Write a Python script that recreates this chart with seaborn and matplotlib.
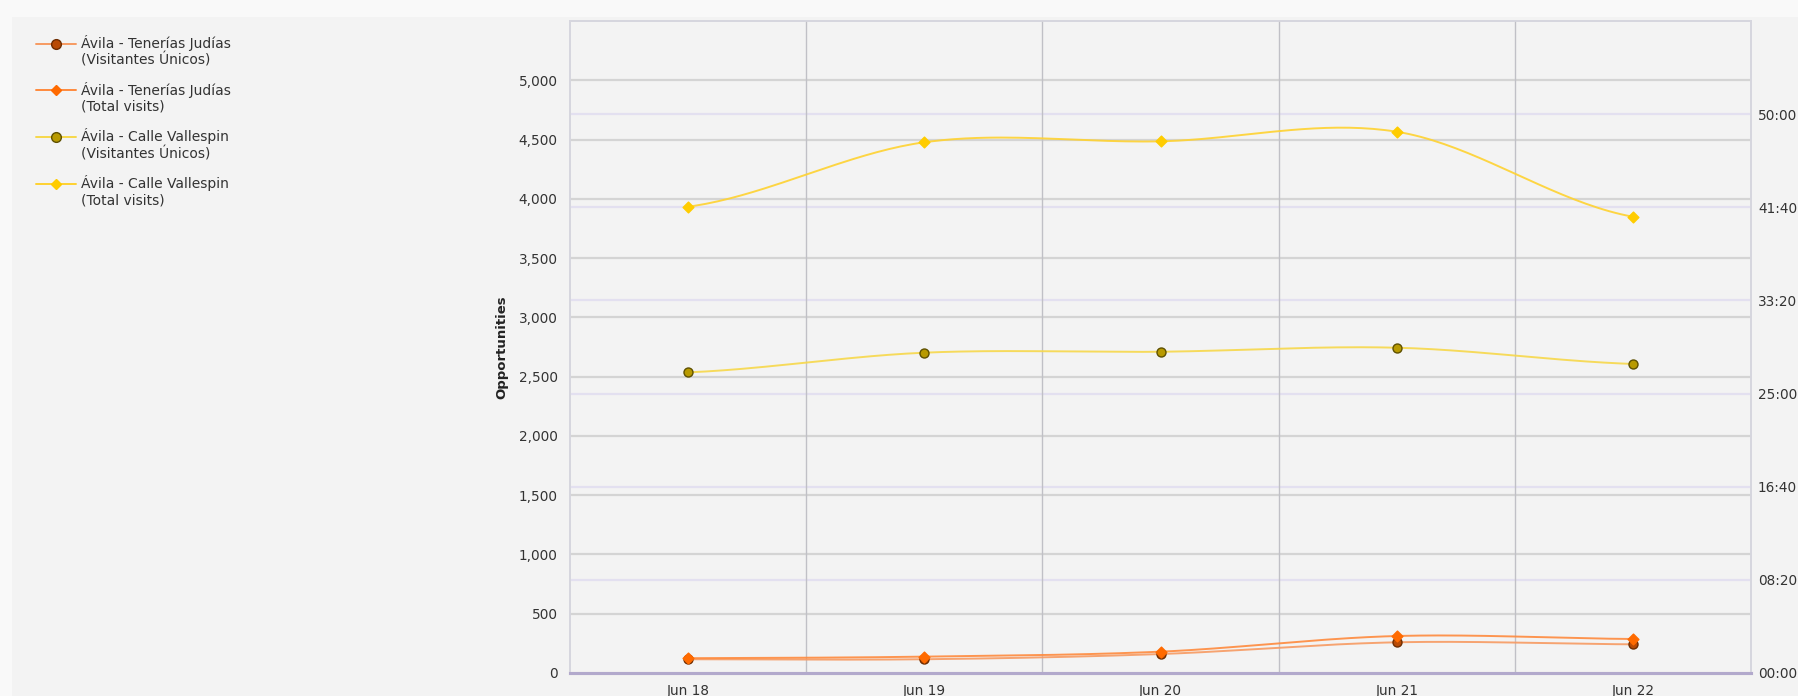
import numpy as np
import pandas as pd
import seaborn as sns
import matplotlib.pyplot as plt
from matplotlib.lines import Line2D
from matplotlib.patches import Rectangle
from matplotlib.legend_handler import HandlerLine2D

# values
days = ["Jun 18", "Jun 19", "Jun 20", "Jun 21", "Jun 22"]
tj_unique = [116, 116, 160, 259, 242]
tj_total = [125, 138, 180, 312, 287]
cv_unique = [2536, 2702, 2710, 2744, 2607]
cv_total = [3933, 4477, 4485, 4566, 3849]

left_ticks = list(range(0, 5001, 500))
right_ticks = list(range(0, 3001, 500))  # seconds, shown as mm:ss

series = [
    # label, values, line colour, marker, face, edge
    ("Ávila - Tenerías Judías\n(Visitantes Únicos)", tj_unique, "#f79a62", "o", "#b94a05", "#6e2c00"),
    ("Ávila - Tenerías Judías\n(Total visits)", tj_total, "#ff8a3d", "D", "#ff6a00", "#ff6a00"),
    ("Ávila - Calle Vallespin\n(Visitantes Únicos)", cv_unique, "#f7d84a", "o", "#b89a00", "#5e5000"),
    ("Ávila - Calle Vallespin\n(Total visits)", cv_total, "#ffd230", "D", "#ffcc00", "#ffcc00"),
]


def spline(y, n=40):
    # catmull-rom curve through the points, just for drawing the line
    y = np.asarray(y, float)
    p = np.concatenate([[y[0]], y, [y[-1]]])
    t = np.linspace(0, 1, n, endpoint=False)
    h00, h10 = 2 * t**3 - 3 * t**2 + 1, t**3 - 2 * t**2 + t
    h01, h11 = -2 * t**3 + 3 * t**2, t**3 - t**2
    xs, ys = [], []
    for i in range(len(y) - 1):
        m1 = (p[i + 2] - p[i]) / 2
        m2 = (p[i + 3] - p[i + 1]) / 2
        xs.append(i + t)
        ys.append(h00 * p[i + 1] + h10 * m1 + h01 * p[i + 2] + h11 * m2)
    xs.append([len(y) - 1])
    ys.append([y[-1]])
    return np.concatenate(xs), np.concatenate(ys)


class TopLine(HandlerLine2D):
    # put the legend handle next to the first line of a two-line label
    def create_artists(self, legend, orig_handle, xdescent, ydescent, width, height, fontsize, trans):
        arts = super().create_artists(legend, orig_handle, xdescent, ydescent, width, height, fontsize, trans)
        for a in arts:
            a.set_ydata(np.asarray(a.get_ydata()) + 0.6 * fontsize)
        return arts


sns.set_theme(style="white")
plt.rcParams["font.family"] = ["DejaVu Sans"]

fig = plt.figure(figsize=(17.98, 6.96), dpi=100, facecolor="#f3f3f3")
fig.patches.append(Rectangle((0, 1 - 17 / 696), 1, 17 / 696, transform=fig.transFigure,
                             facecolor="#f9f9f9", edgecolor="none", zorder=-1))
fig.patches.append(Rectangle((0, 0), 12 / 1798, 1, transform=fig.transFigure,
                             facecolor="#f9f9f9", edgecolor="none", zorder=-1))

ax = fig.add_axes([570 / 1798, 23 / 696, 1181 / 1798, 652 / 696])
ax2 = ax.twinx()
# the right-hand scale sits behind the data axis
ax2.set_zorder(ax.get_zorder() - 1)
ax.patch.set_visible(False)
ax2.patch.set_visible(True)
ax2.set_facecolor("#f3f3f3")

x = np.arange(len(days))
for label, vals, lc, mk, fc, ec in series:
    sx, sy = spline(vals)
    sns.lineplot(x=sx, y=sy, ax=ax, color=lc, lw=1.4, alpha=0.9, sort=False, zorder=3)
    sns.scatterplot(x=x, y=vals, ax=ax, marker=mk, s=42 if mk == "o" else 30,
                    color=fc, edgecolor=ec, linewidth=1.0, zorder=4)

ax.set_xlim(-0.5, len(days) - 0.5)
ax.set_ylim(0, 5500)
ax.set_yticks(left_ticks)
ax.set_yticklabels([f"{v:,}" for v in left_ticks])
ax.set_xticks(x)
ax.set_xticklabels(days)
ax.set_ylabel("Opportunities", fontsize=9.5, fontweight="bold", color="#222", labelpad=7)

ax2.set_ylim(0, 3500)
ax2.set_yticks(right_ticks)
ax2.set_yticklabels([f"{v // 60:02d}:{v % 60:02d}" for v in right_ticks])

# grids: grey for the left scale, pale purple for the right one, columns between days
for v in left_ticks[1:]:
    ax.axhline(v, color="#d4d4d4", lw=1.6, zorder=1)
for v in right_ticks[1:]:
    ax2.axhline(v, color="#e3e0f0", lw=1.6, zorder=1)
for b in x[:-1] + 0.5:
    ax.axvline(b, color="#c0c0c6", lw=1.0, zorder=1)

for a in (ax, ax2):
    for side in ("left", "right", "top"):
        a.spines[side].set_color("#d6d6de")
        a.spines[side].set_linewidth(1.2)
    a.spines["bottom"].set_color("#b2a9cc")
    a.spines["bottom"].set_linewidth(2.2)
    a.tick_params(length=0, labelsize=9.8, labelcolor="#333")
ax.tick_params(axis="y", pad=9)
ax.tick_params(axis="x", pad=8)
ax2.tick_params(axis="y", pad=5)

handles = [Line2D([], [], color=lc, lw=1.4, marker=mk, markersize=7 if mk == "o" else 5.5,
                  markerfacecolor=fc, markeredgecolor=ec)
           for _, _, lc, mk, fc, ec in series]
fig.legend(handles, [s[0] for s in series], loc="upper left", bbox_to_anchor=(23 / 1798, 1 - 22 / 696),
           frameon=False, fontsize=10, labelcolor="#333", handlelength=2.9, handletextpad=0.4,
           labelspacing=1.0, handler_map={Line2D: TopLine()})

fig.savefig("out.png", dpi=100, facecolor=fig.get_facecolor())
